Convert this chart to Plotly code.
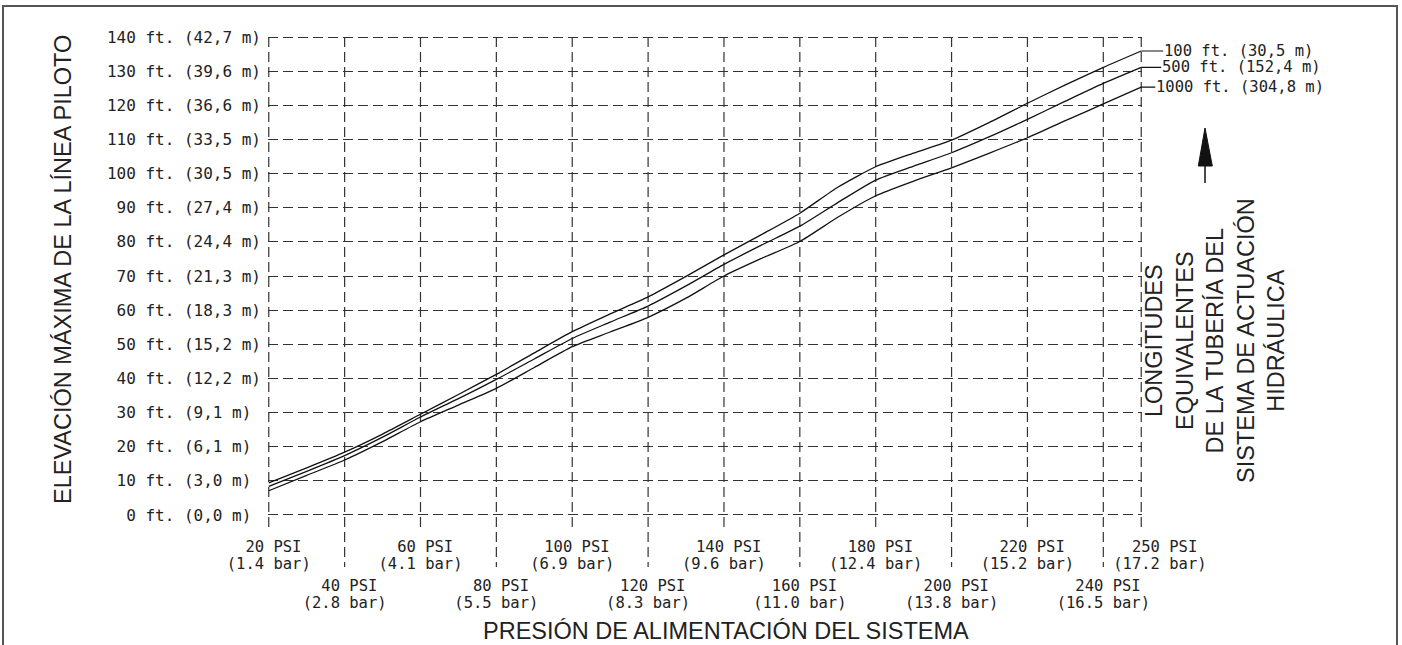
import plotly.graph_objects as go

# ---------------- data ----------------
psi = [20, 30, 40, 50, 60, 70, 80, 90, 100, 110, 120, 130, 140, 150, 160, 170,
       180, 190, 200, 210, 220, 230, 240, 250]

elev_100ft = [9.4, 13.8, 18.4, 23.7, 29.5, 35.3, 41.2, 47.5, 53.7, 58.9, 63.9, 69.9,
              76.2, 82.2, 88.4, 96.0, 102.0, 106.0, 109.8, 115.0, 120.6, 126.0, 131.1, 135.9]
elev_500ft = [8.4, 12.8, 17.4, 22.8, 28.7, 34.1, 39.7, 45.7, 51.7, 56.5, 61.2, 67.1,
              73.4, 79.1, 84.6, 91.5, 98.1, 102.2, 106.1, 110.8, 115.9, 121.2, 126.4, 131.1]
elev_1000ft = [7.1, 11.6, 16.1, 21.5, 27.3, 32.2, 37.1, 43.2, 49.3, 53.6, 57.9, 63.5,
               70.0, 75.2, 80.1, 87.2, 93.5, 97.8, 101.7, 106.0, 110.5, 115.5, 120.4, 125.3]

series_labels = ["100 ft. (30,5 m)", "500 ft. (152,4 m)", "1000 ft. (304,8 m)"]

y_ft = [0, 10, 20, 30, 40, 50, 60, 70, 80, 90, 100, 110, 120, 130, 140]
y_m = ["0,0", "3,0", "6,1", "9,1", "12,2", "15,2", "18,3", "21,3", "24,4",
       "27,4", "30,5", "33,5", "36,6", "39,6", "42,7"]

x_row1_psi = [20, 60, 100, 140, 180, 220, 250]
x_row1_bar = ["1.4", "4.1", "6.9", "9.6", "12.4", "15.2", "17.2"]
x_row2_psi = [40, 80, 120, 160, 200, 240]
x_row2_bar = ["2.8", "5.5", "8.3", "11.0", "13.8", "16.5"]

y_title = "ELEVACIÓN MÁXIMA DE LA LÍNEA PILOTO"
x_title = "PRESIÓN DE ALIMENTACIÓN DEL SISTEMA"
right_title = "LONGITUDES<br>EQUIVALENTES<br>DE LA TUBERÍA DEL<br>SISTEMA DE ACTUACIÓN<br>HIDRÁULICA"

# ---------------- styling ----------------
NB = "\u00a0"
MONO = "DejaVu Sans Mono"
SANS = "Liberation Sans, Arial, sans-serif"
TXT = "#222222"
GRID = "#333333"
DASH = "10px,5px"

W, H = 1402, 645
ML, MR, MT, MB = 268, 260, 36, 129
PW, PH = W - ML - MR, H - MT - MB


# helpers: screenshot pixel -> paper coordinates (for decorations only)
def px_x(px):
    return (px - ML) / PW


def px_y(py):
    return (H - MB - py) / PH


y_text = []
for v, m in zip(y_ft, y_m):
    s = f"{str(v).rjust(3)} ft. ({m} m)".ljust(16)
    lead = len(s) - len(s.lstrip(" "))
    trail = len(s) - len(s.rstrip(" "))
    y_text.append(NB * lead + s.strip(" ") + NB * trail)


def pad250(v, s):
    return (NB * 4 + s) if v == 250 else s


row1_psi_text = [pad250(v, f"{NB}{v} PSI") for v in x_row1_psi]
row1_bar_text = [pad250(v, f"({b} bar)") for v, b in zip(x_row1_psi, x_row1_bar)]
row2_psi_text = [f"{NB}{v} PSI" for v in x_row2_psi]
row2_bar_text = [f"({b} bar)" for b in x_row2_bar]

fig = go.Figure()

for vals in (elev_100ft, elev_500ft, elev_1000ft):
    fig.add_trace(go.Scatter(
        x=psi, y=vals, mode="lines",
        line=dict(color="#111111", width=1.3, shape="spline", smoothing=0.6),
        showlegend=False, hoverinfo="skip"))

# invisible carriers for the extra label axes
for ax, vals in (("x2", x_row1_psi), ("x3", x_row2_psi), ("x4", x_row2_psi)):
    fig.add_trace(go.Scatter(x=vals, y=[0] * len(vals), xaxis=ax, mode="none",
                             showlegend=False, hoverinfo="skip"))

xr = [19.8, 250.2]
tickfont = dict(family=MONO, size=15.5, color=TXT)
common_x = dict(range=xr, showgrid=False, zeroline=False, showline=False,
                ticks="", tickmode="array", tickfont=tickfont, tickangle=0,
                fixedrange=True)

fig.update_layout(
    width=W, height=H,
    margin=dict(l=ML, r=MR, t=MT, b=MB, pad=0),
    paper_bgcolor="white", plot_bgcolor="white",
    showlegend=False,
    xaxis=dict(**common_x, tickvals=x_row1_psi, ticktext=row1_psi_text,
               ticklabelstandoff=19),
    xaxis2=dict(**common_x, overlaying="x", anchor="y", side="bottom",
                tickvals=x_row1_psi, ticktext=row1_bar_text, ticklabelstandoff=36),
    xaxis3=dict(**common_x, overlaying="x", anchor="y", side="bottom",
                tickvals=x_row2_psi, ticktext=row2_psi_text, ticklabelstandoff=58),
    xaxis4=dict(**common_x, overlaying="x", anchor="y", side="bottom",
                tickvals=x_row2_psi, ticktext=row2_bar_text, ticklabelstandoff=75),
    yaxis=dict(range=[-0.3, 140.3], tickmode="array", tickvals=y_ft, ticktext=y_text,
               showgrid=True, gridcolor=GRID, gridwidth=1.2, griddash=DASH,
               zeroline=False, showline=False, ticks="", ticklabelstandoff=6,
               tickfont=dict(family=MONO, size=16, color=TXT), fixedrange=True),
)

shapes = []
# vertical dashed grid lines, continued below the plot to the staggered labels
for v in x_row1_psi:
    shapes.append(dict(type="line", xref="x", yref="paper", x0=v, x1=v,
                       y0=px_y(37), y1=px_y(530),
                       line=dict(color=GRID, width=1.2, dash=DASH), layer="below"))
for v in x_row2_psi:
    shapes.append(dict(type="line", xref="x", yref="paper", x0=v, x1=v,
                       y0=px_y(37), y1=px_y(567),
                       line=dict(color=GRID, width=1.2, dash=DASH), layer="below"))

# outer frame
shapes.append(dict(type="rect", xref="paper", yref="paper",
                   x0=px_x(3), x1=px_x(1397), y0=px_y(700), y1=px_y(6),
                   line=dict(color="#555555", width=2), fillcolor="rgba(0,0,0,0)"))

# upward arrow on the right
tip_x = px_x(1205)
shapes.append(dict(type="line", xref="paper", yref="paper",
                   x0=tip_x, x1=tip_x, y0=px_y(183), y1=px_y(160),
                   line=dict(color="#111111", width=1.5)))
shapes.append(dict(type="path", xref="paper", yref="paper",
                   path=(f"M {px_x(1198.3)} {px_y(166)} L {tip_x} {px_y(128)} "
                         f"L {px_x(1212.3)} {px_y(166)} Z"),
                   fillcolor="#111111", line=dict(color="#111111", width=1)))
fig.update_layout(shapes=shapes)

annotations = []
# series labels with leader lines from the curve ends
for vals, lab, ax in zip((elev_100ft, elev_500ft, elev_1000ft), series_labels, (22, 20, 14)):
    annotations.append(dict(x=psi[-1], y=vals[-1], xref="x", yref="y",
                            text=lab, showarrow=True, arrowhead=0, arrowwidth=1.2,
                            arrowcolor="#111111", ax=ax, ay=0, axref="pixel", ayref="pixel",
                            xanchor="left", yanchor="middle", standoff=0, borderpad=0,
                            font=dict(family=MONO, size=15.5, color=TXT)))

annotations.append(dict(x=px_x(63), y=px_y(270), xref="paper", yref="paper",
                        text=y_title, showarrow=False, textangle=-90,
                        xanchor="center", yanchor="middle",
                        font=dict(family=SANS, size=23.5, color=TXT)))
annotations.append(dict(x=px_x(726), y=px_y(631), xref="paper", yref="paper",
                        text=x_title, showarrow=False,
                        xanchor="center", yanchor="middle",
                        font=dict(family=SANS, size=23.5, color=TXT)))
annotations.append(dict(x=px_x(1215), y=px_y(341), xref="paper", yref="paper",
                        text=right_title, showarrow=False, textangle=-90, align="center",
                        xanchor="center", yanchor="middle",
                        font=dict(family=SANS, size=23.5, color=TXT)))
fig.update_layout(annotations=annotations)

# the page body has a default 8px margin; remove it so the figure fills the window
fig.write_html("out.html",
               config={"displayModeBar": False},
               post_script="document.body.style.margin='0px';document.body.style.overflow='hidden';")
